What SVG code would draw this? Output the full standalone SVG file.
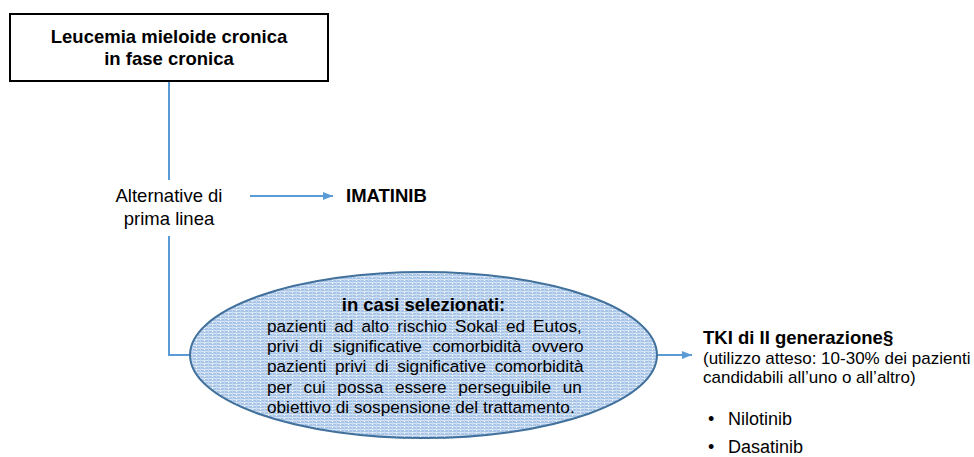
<svg xmlns="http://www.w3.org/2000/svg" width="974" height="457" viewBox="0 0 974 457">
<style>
.t{font-family:"Liberation Sans",Arial,sans-serif;fill:#000}
.b{font-weight:bold}
.c{stroke:#5B9BD5;stroke-width:2;fill:none}
</style>
<defs>
<marker id="ah" markerUnits="userSpaceOnUse" markerWidth="12" markerHeight="10" refX="10" refY="5" orient="auto">
<path d="M0,1 L10,5 L0,9 Z" fill="#5B9BD5"/>
</marker>
<pattern id="grid" patternUnits="userSpaceOnUse" width="8" height="3">
<rect width="8" height="3" fill="#A9C5E8"/>
<rect width="8" height="1" fill="#D8E5F5"/>
<rect width="1" height="3" fill="#C3D6EF"/>
<rect x="4" y="1" width="1" height="1" fill="#FFFFFF"/>
</pattern>
</defs>
<rect width="974" height="457" fill="#FFFFFF"/>
<g id="connectors">
<line class="c" x1="169" y1="81" x2="169" y2="180"/>
<line class="c" x1="250" y1="196" x2="333" y2="196" marker-end="url(#ah)"/>
<polyline class="c" points="169,236 169,355 190,355"/>
<line class="c" x1="657" y1="355" x2="692" y2="355" marker-end="url(#ah)"/>
</g>
<g id="node-lmc">
<rect x="10" y="14" width="318" height="67" fill="#FFFFFF" stroke="#000" stroke-width="2"/>
<text class="t b" x="169" y="43" font-size="18.5" text-anchor="middle">Leucemia mieloide cronica</text>
<text class="t b" x="169" y="65" font-size="18.5" text-anchor="middle">in fase cronica</text>
</g>
<g id="node-alternative">
<text class="t" x="169" y="202" font-size="18.5" text-anchor="middle">Alternative di</text>
<text class="t" x="169" y="225" font-size="18.5" text-anchor="middle">prima linea</text>
</g>
<g id="node-imatinib">
<text class="t b" x="346" y="202" font-size="18.5">IMATINIB</text>
</g>
<g id="node-casi">
<ellipse cx="423.5" cy="355" rx="233.5" ry="83" fill="url(#grid)" stroke="#41719C" stroke-width="2"/>
<text class="t b" x="423.5" y="311" font-size="18.5" text-anchor="middle">in casi selezionati:</text>
<g class="t" font-size="17.2">
<text x="267" y="332" word-spacing="3.27">pazienti ad alto rischio Sokal ed Eutos,</text>
<text x="267" y="352" word-spacing="5.8">privi di significative comorbidità ovvero</text>
<text x="267" y="372" word-spacing="3.9">pazienti privi di significative comorbidità</text>
<text x="267" y="392.5" word-spacing="6.98">per cui possa essere perseguibile un</text>
<text x="267" y="413">obiettivo di sospensione del trattamento.</text>
</g>
</g>
<g id="node-tki">
<text class="t b" x="703" y="344" font-size="18.5">TKI di II generazione§</text>
<text class="t" x="703" y="364" font-size="17">(utilizzo atteso: 10-30% dei pazienti</text>
<text class="t" x="703" y="383" font-size="17">candidabili all’uno o all’altro)</text>
<text class="t" x="708" y="425" font-size="18">•</text>
<text class="t" x="728" y="425" font-size="18">Nilotinib</text>
<text class="t" x="708" y="453" font-size="18">•</text>
<text class="t" x="728" y="453" font-size="18">Dasatinib</text>
</g>
</svg>
